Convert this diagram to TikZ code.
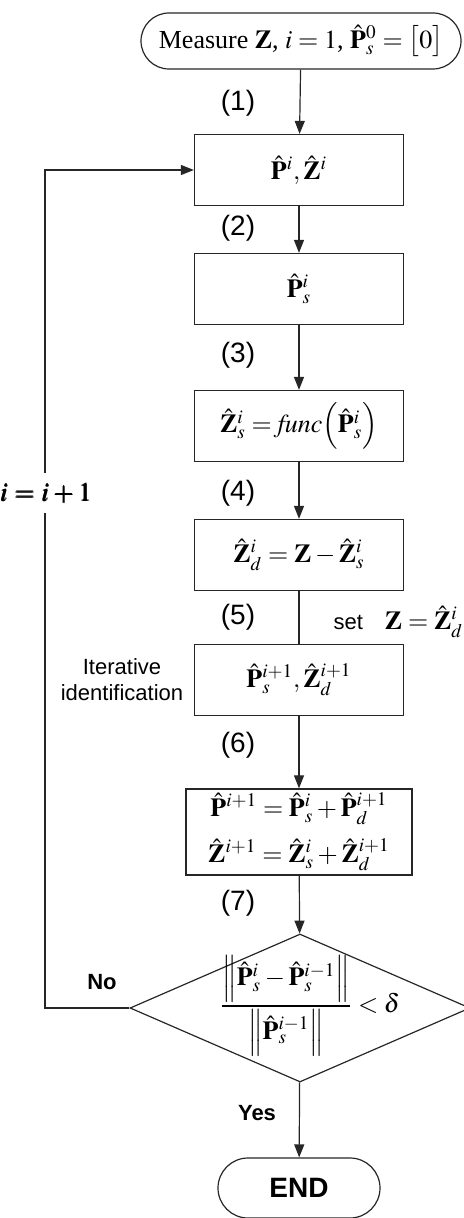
\documentclass[tikz,border=0pt]{standalone}
\usepackage{amsmath}
\usepackage{mathptmx}
\usepackage{bm}
\usepackage[no-math]{fontspec}
\setmainfont{Liberation Serif}
\setsansfont{Liberation Sans}
\usetikzlibrary{arrows.meta,shapes.geometric}

\begin{document}
\begin{tikzpicture}[
	x=0.5pt, y=-0.5pt,
	line width=0.6pt, draw=black!85,
	arr/.style={ -{Triangle[length=6.5pt,width=5pt]} },
	block/.style={ rectangle, draw, inner sep=2pt, minimum width=104.5pt, minimum height=35.5pt, font=\fontsize{13}{15}\selectfont },
	terminal/.style={ rectangle, draw, rounded corners=14pt, inner sep=2pt, minimum height=28pt, font=\fontsize{13}{15}\selectfont },
	decision/.style={ diamond, draw, inner sep=0pt, minimum width=170pt, minimum height=74pt },
	steplabel/.style={ font=\sffamily\fontsize{14}{16}\selectfont },
	note/.style={ font=\sffamily\fontsize{11}{13}\selectfont, align=center }
]

\useasboundingbox (0,0) rectangle (463,1218);

\node at (301,41) (measure) [terminal,minimum width=160pt] {Measure $\mathbf{Z}$, $i=1$, $\hat{\mathbf{P}}_s^0=\bigl[0\bigr]$};
\node at (299,170) (est) [block] {$\hat{\mathbf{P}}^i,\hat{\mathbf{Z}}^i$};
\node at (299,289) (ps) [block] {$\hat{\mathbf{P}}_s^i$};
\node at (299,426) (zs) [block] {$\hat{\mathbf{Z}}_s^i=\mathit{func}\Bigl(\hat{\mathbf{P}}_s^i\Bigr)$};
\node at (299,555) (zd) [block] {$\hat{\mathbf{Z}}_d^i=\mathbf{Z}-\hat{\mathbf{Z}}_s^i$};
\node at (299,680) (iter) [block] {$\hat{\mathbf{P}}_s^{i+1},\hat{\mathbf{Z}}_d^{i+1}$};
\node at (299,832) (update) [block,minimum width=113pt,minimum height=42.5pt,align=center] {$\hat{\mathbf{P}}^{i+1}=\hat{\mathbf{P}}_s^i+\hat{\mathbf{P}}_d^{i+1}$\\[6pt] $\hat{\mathbf{Z}}^{i+1}=\hat{\mathbf{Z}}_s^i+\hat{\mathbf{Z}}_d^{i+1}$};
\node at (300,1008) (check) [decision] {};
\node at (310,1006) (crit) [font=\fontsize{13}{15}\selectfont] {$\dfrac{\Bigl\|\hat{\mathbf{P}}_s^i-\hat{\mathbf{P}}_s^{i-1}\Bigr\|}{\Bigl\|\hat{\mathbf{P}}_s^{i-1}\Bigr\|}<\delta$};
\node at (299,1188) (finish) [terminal,rounded corners=15pt,minimum width=81pt,minimum height=30pt,font=\sffamily\bfseries\fontsize{14}{16}\selectfont] {END};

\coordinate (back) at (45,1008);

\draw[arr] (measure) to (est);
\draw[arr] (est) to (ps);
\draw[arr] (ps) to (zs);
\draw[arr] (zs) to (zd);
\draw (zd) to (iter);
\draw[arr] (iter) to (update);
\draw[arr] (update) to (check);
\draw[arr] (check) to (finish);
\draw[arr] (check.west) to (back) |- (est);

\node at (238,103) (s1) [steplabel] {(1)};
\node at (238,228) (s2) [steplabel] {(2)};
\node at (238,355) (s3) [steplabel] {(3)};
\node at (238,493) (s4) [steplabel] {(4)};
\node at (238,617) (s5) [steplabel] {(5)};
\node at (238,745) (s6) [steplabel] {(6)};
\node at (238,903) (s7) [steplabel] {(7)};

\node at (46,493) (incr) [fill=white,inner ysep=5pt,font=\fontsize{13}{15}\selectfont] {$\bm{i=i+1}$};
\node at (333,622) (set) [anchor=west,inner sep=0pt,font=\sffamily\fontsize{11}{13}\selectfont] {set\quad{\fontsize{13}{15}\selectfont$\mathbf{Z}=\hat{\mathbf{Z}}_d^i$}};
\node at (122,680) (ident) [note] {Iterative\\identification};
\node at (102,982) (no) [note,font=\sffamily\bfseries\fontsize{11}{13}\selectfont] {No};
\node at (257,1113) (yes) [note,font=\sffamily\bfseries\fontsize{11}{13}\selectfont] {Yes};

\end{tikzpicture}
\end{document}
